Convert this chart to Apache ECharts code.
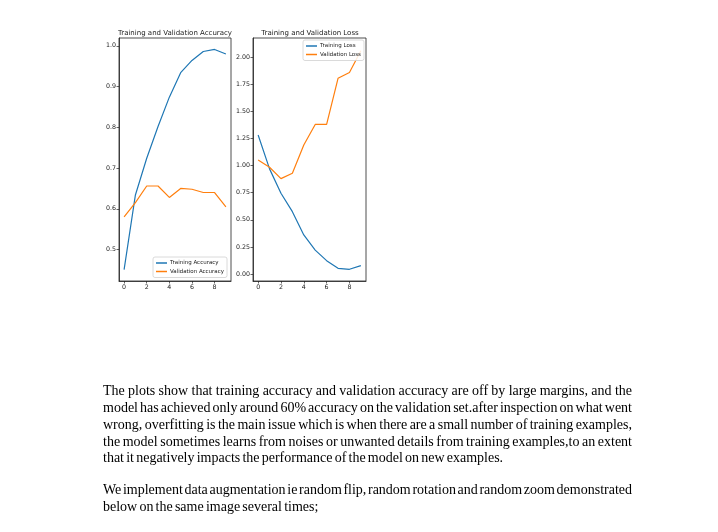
<!DOCTYPE html>
<html>
<head>
<meta charset="utf-8">
<script src="https://cdn.jsdelivr.net/npm/echarts@6/dist/echarts.min.js"></script>
<style>
html,body{margin:0;padding:0;background:#fff;}
#chart{width:718px;height:532px;}
</style>
</head>
<body>
<div id="chart"></div>
<script>
// ---- data ----
const epochs = [0, 1, 2, 3, 4, 5, 6, 7, 8, 9];
const trainAcc = [0.451, 0.634, 0.724, 0.802, 0.874, 0.934, 0.964, 0.986, 0.991, 0.980];
const valAcc = [0.580, 0.615, 0.656, 0.656, 0.628, 0.650, 0.648, 0.640, 0.640, 0.605];
const trainLoss = [1.283, 0.970, 0.745, 0.575, 0.360, 0.220, 0.123, 0.052, 0.043, 0.077];
const valLoss = [1.052, 0.985, 0.880, 0.930, 1.190, 1.380, 1.380, 1.806, 1.860, 2.060];
const xTicks = [0, 2, 4, 6, 8];
const accTicks = [0.5, 0.6, 0.7, 0.8, 0.9, 1.0];
const lossTicks = [0, 0.25, 0.5, 0.75, 1.0, 1.25, 1.5, 1.75, 2.0];
const titles = ['Training and Validation Accuracy', 'Training and Validation Loss'];
const accNames = ['Training Accuracy', 'Validation Accuracy'];
const lossNames = ['Training Loss', 'Validation Loss'];
const paragraphLines = [
  ['The plots show that training accuracy and validation accuracy are off by large margins, and the', true],
  ['model has achieved only around 60% accuracy on the validation set.after inspection on what went', true],
  ['wrong, overfitting is the main issue which is when there are a small number of training examples,', true],
  ['the model sometimes learns from noises or unwanted details from training examples,to an extent', true],
  ['that it negatively impacts the performance of the model on new examples.', false],
  ['We implement  data augmentation ie random flip, random rotation and random zoom demonstrated', true],
  ['below on the same image several times;', false]
];

const BLUE = '#1f77b4', ORANGE = '#ff7f0e';
const pairs = (ys) => epochs.map((x, i) => [x, ys[i]]);

// ---- paragraph layout (justified) ----
const TEXT_FONT = '14px "Liberation Serif", "Times New Roman", serif';
const lineY = [391, 408, 425, 442, 458, 490, 507];
const textLeft = 103, textRight = 632;
const mctx = document.createElement('canvas').getContext('2d');
mctx.font = TEXT_FONT;
const graphics = [];
paragraphLines.forEach(([line, justify], li) => {
  const words = line.split(/\s+/);
  const widths = words.map(w => mctx.measureText(w).width);
  const total = widths.reduce((a, b) => a + b, 0);
  let gap = justify ? (textRight - textLeft - total) / (words.length - 1) : 2.2;
  let x = textLeft;
  words.forEach((w, i) => {
    graphics.push({
      type: 'text', x: x, y: lineY[li], silent: true,
      style: { text: w, font: TEXT_FONT, fill: '#000', verticalAlign: 'middle', textVerticalAlign: 'middle' }
    });
    x += widths[i] + gap;
  });
});

const tickFont = 6.3;
function mkX(gridIndex) {
  return {
    type: 'value', gridIndex, min: -0.45, max: 9.45, position: 'bottom',
    axisLine: { show: true, onZero: false, lineStyle: { color: '#222', width: 0.8 } },
    splitLine: { show: false },
    axisTick: { show: true, inside: false, length: 2.5, customValues: xTicks, lineStyle: { color: '#222', width: 0.7 } },
    axisLabel: { show: true, customValues: xTicks, fontSize: tickFont, color: '#222', margin: 3, fontFamily: 'DejaVu Sans' }
  };
}
function mkY(gridIndex, min, max, ticks, dec) {
  return {
    type: 'value', gridIndex, min, max, position: 'left',
    axisLine: { show: true, onZero: false, lineStyle: { color: '#222', width: 0.8 } },
    splitLine: { show: false },
    axisTick: { show: true, inside: false, length: 2.5, customValues: ticks, lineStyle: { color: '#222', width: 0.7 } },
    axisLabel: { show: true, customValues: ticks, fontSize: tickFont, color: '#222', margin: 3, fontFamily: 'DejaVu Sans',
      formatter: (v) => Number(v).toFixed(dec) }
  };
}
function mkLine(name, data, color, xi, yi) {
  return {
    name, type: 'line', data, xAxisIndex: xi, yAxisIndex: yi,
    showSymbol: false, symbol: 'none', smooth: false,
    lineStyle: { color, width: 1.2 }, itemStyle: { color },
    emphasis: { disabled: true }
  };
}
function mkLegend(names, left, top) {
  return {
    data: names, orient: 'vertical', left, top,
    icon: 'rect', itemWidth: 11, itemHeight: 1.5, itemGap: 2.5,
    padding: [3, 3, 3, 3],
    backgroundColor: 'rgba(255,255,255,0.85)', borderColor: '#d0d0d0', borderWidth: 0.8, borderRadius: 2,
    textStyle: { fontSize: 5.5, color: '#222', fontFamily: 'DejaVu Sans', padding: [0, 0, 0, -2] },
    selectedMode: false
  };
}

const titleStyle = { fontSize: 7, fontWeight: 'normal', color: '#222', fontFamily: 'DejaVu Sans' };
const chart = echarts.init(document.getElementById('chart'), null, { renderer: 'canvas' });
chart.setOption({
  backgroundColor: '#fff',
  animation: false,
  title: [
    { text: titles[0], left: 175, top: 30, padding: 0, textAlign: 'center', textStyle: titleStyle },
    { text: titles[1], left: 310, top: 30, padding: 0, textAlign: 'center', textStyle: titleStyle }
  ],
  grid: [
    { left: 119, top: 38, width: 112, height: 243, show: true, borderColor: '#222', borderWidth: 0.8, backgroundColor: 'transparent' },
    { left: 253, top: 38, width: 113, height: 243, show: true, borderColor: '#222', borderWidth: 0.8, backgroundColor: 'transparent' }
  ],
  xAxis: [mkX(0), mkX(1)],
  yAxis: [mkY(0, 0.4229, 1.0191, accTicks, 1), mkY(1, -0.065, 2.178, lossTicks, 2)],
  legend: [mkLegend(accNames, 153, 257), mkLegend(lossNames, 303, 40)],
  series: [
    mkLine(accNames[0], pairs(trainAcc), BLUE, 0, 0),
    mkLine(accNames[1], pairs(valAcc), ORANGE, 0, 0),
    mkLine(lossNames[0], pairs(trainLoss), BLUE, 1, 1),
    mkLine(lossNames[1], pairs(valLoss), ORANGE, 1, 1)
  ],
  graphic: graphics
});
</script>
</body>
</html>
